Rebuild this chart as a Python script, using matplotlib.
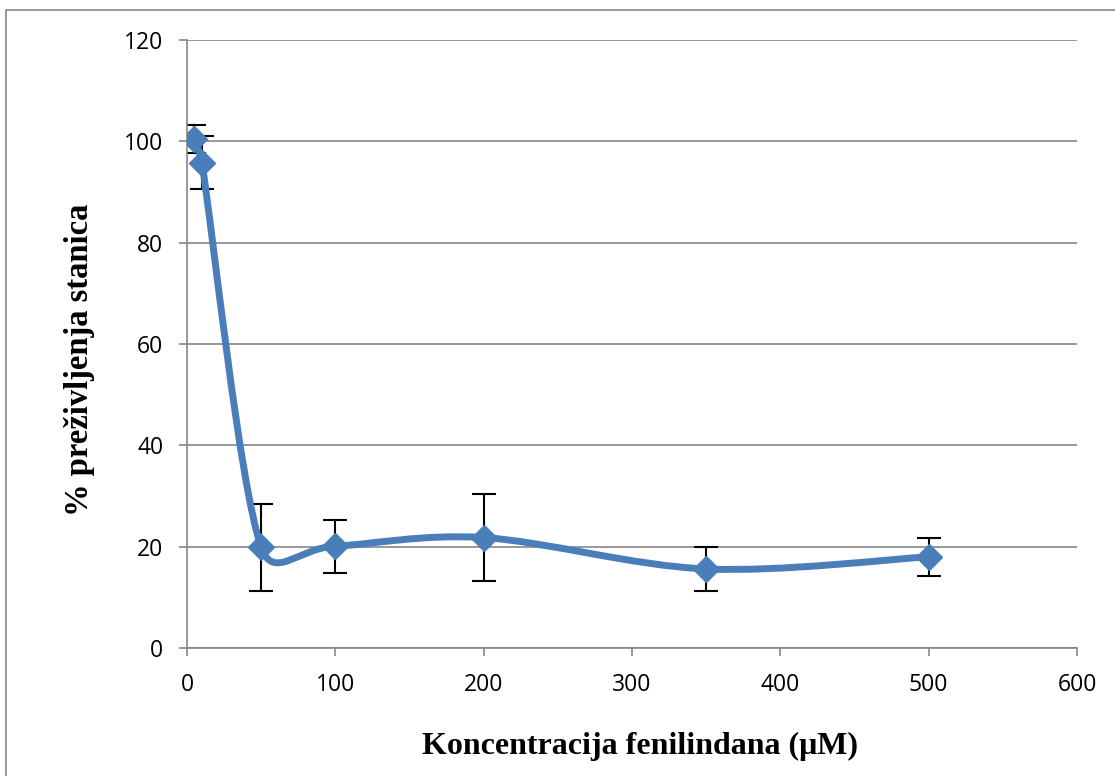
"""Cell survival vs phenylindane concentration (Excel-style smoothed scatter)"""

import matplotlib
matplotlib.use('Agg')
import matplotlib.pyplot as plt
from matplotlib.path import Path
from matplotlib.patches import PathPatch, Rectangle
import numpy as np

conc = [5, 10, 50, 100, 200, 350, 500]                 # uM
survival = [100.4, 95.8, 19.9, 20.1, 21.8, 15.6, 18.0]  # %
err = [2.8, 5.2, 8.6, 5.25, 8.6, 4.4, 3.75]

x_ticks = [0, 100, 200, 300, 400, 500, 600]
y_ticks = [0, 20, 40, 60, 80, 100, 120]

blue = '#4a7ebb'
grey = '#868686'

fig = plt.figure(figsize=(11.15, 7.76), dpi=100)
ax = fig.add_axes([187/1115, 1-648/776, (1077-187)/1115, (648-40)/776])
ax.set_xlim(0, 600)
ax.set_ylim(0, 120)

# outer chart border
fig.patches.append(Rectangle((6/1115, -0.05), 1.2, 1-10/776+0.05, transform=fig.transFigure,
                             fill=False, edgecolor=grey, lw=1.2))

# smoothed line like excel: bezier segments built in screen space, tangents clamped
pts = ax.transData.transform(np.column_stack([conc, survival]))
n = len(pts)
verts = [pts[0]]
codes = [Path.MOVETO]
for i in range(n-1):
    p1, p2 = pts[i], pts[i+1]
    p0 = pts[i-1] if i > 0 else p1
    p3 = pts[i+2] if i+2 < n else p2
    d12 = np.hypot(*(p2-p1))
    t1 = (p2-p0)/6
    if np.hypot(*t1) > d12/2:
        t1 = t1/np.hypot(*t1)*d12/2
    t2 = (p3-p1)/6
    if np.hypot(*t2) > d12/2:
        t2 = t2/np.hypot(*t2)*d12/2
    verts += [p1+t1, p2-t2, p2]
    codes += [Path.CURVE4]*3
verts = ax.transData.inverted().transform(np.array(verts))
ax.add_patch(PathPatch(Path(verts, codes), fill=False, edgecolor=blue, lw=5, zorder=3,
                       capstyle='round', joinstyle='round'))

ax.errorbar(conc, survival, yerr=err, fmt='none', ecolor='black', elinewidth=1.5,
            capsize=8.5, capthick=1.5, zorder=2)
ax.plot(conc, survival, linestyle='none', marker='D', markersize=13.5, color=blue, zorder=4)

ax.set_xticks(x_ticks)
ax.set_yticks(y_ticks)
ax.yaxis.grid(True, color=grey, lw=1.2)
ax.set_axisbelow(True)
for s in ['top', 'right']:
    ax.spines[s].set_visible(False)
for s in ['left', 'bottom']:
    ax.spines[s].set_color(grey)
    ax.spines[s].set_linewidth(1.2)
ax.tick_params(length=6, width=1.2, color=grey, labelsize=16.5)
ax.tick_params(axis='y', pad=11)
ax.tick_params(axis='x', pad=12)
for lab in ax.get_xticklabels() + ax.get_yticklabels():
    lab.set_fontfamily('Open Sans')

fig.text(640/1115, 1-746/776, 'Koncentracija fenilindana (μM)', ha='center', va='center',
         family='Liberation Serif', weight='bold', fontsize=23)
fig.text(80/1115, 1-360/776, '% preživljenja stanica', ha='center', va='center', rotation=90,
         family='Liberation Serif', weight='bold', fontsize=23.5)

fig.savefig('out.png', dpi=100)
